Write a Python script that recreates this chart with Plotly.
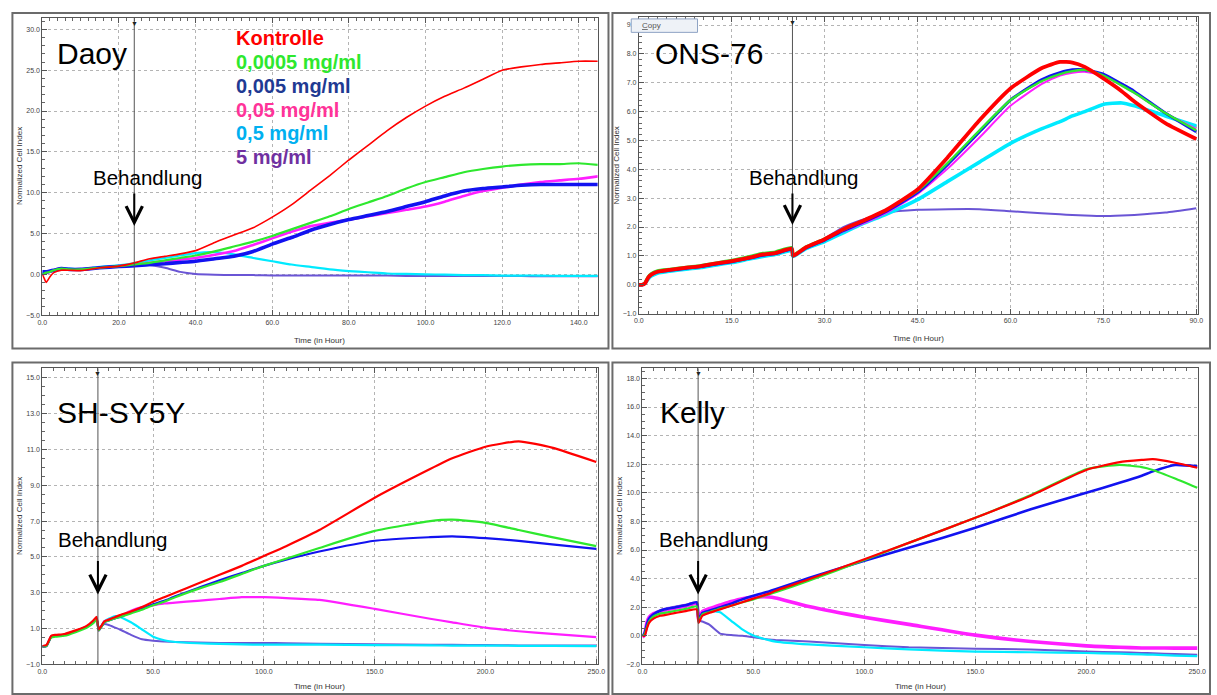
import plotly.graph_objects as go

W, H = 1217, 695
FONT = "Liberation Sans, Arial, sans-serif"

SERIES = ["Kontrolle", "0,0005 mg/ml", "0,005 mg/ml", "0,05 mg/ml", "0,5 mg/ml", "5 mg/ml"]
LINE_COLORS = ["#ff0000", "#2ee82e", "#1212f0", "#ff1eff", "#00eaff", "#6a55d5"]
LEGEND_COLORS = ["#ff0000", "#2ee82e", "#1f3a93", "#ff3399", "#00b0f0", "#7030a0"]

# ---- Daoy ----
DAOY_T = [0, 0.5, 1, 2, 3, 5, 7, 10, 15, 20, 24, 28, 32, 36, 40, 45, 50, 55, 60, 65, 70, 75,
          80, 85, 90, 95, 100, 105, 110, 115, 120, 125, 130, 135, 140, 145]
DAOY_KONTROLLE = [0, -0.5, -1.0, -0.3, 0.2, 0.5, 0.5, 0.45, 0.8, 1.0, 1.4, 1.9, 2.2, 2.5, 2.9, 3.9,
                  4.8, 5.7, 7.0, 8.5, 10.3, 12.1, 14.0, 15.8, 17.6, 19.2, 20.6, 21.8, 22.8, 23.9,
                  25.0, 25.4, 25.7, 25.9, 26.1, 26.1]
DAOY_0_0005 = [0, 0.1, 0.2, 0.3, 0.5, 0.7, 0.6, 0.6, 0.8, 1.0, 1.2, 1.4, 1.7, 2.0, 2.3, 2.8, 3.4,
               4.0, 4.7, 5.5, 6.3, 7.1, 8.0, 8.8, 9.6, 10.5, 11.3, 11.9, 12.5, 12.9, 13.2, 13.4,
               13.5, 13.5, 13.6, 13.4]
DAOY_0_005 = [0.3, 0.3, 0.3, 0.4, 0.5, 0.7, 0.6, 0.6, 0.8, 0.95, 1.05, 1.2, 1.3, 1.45, 1.6, 1.9,
              2.2, 2.8, 3.7, 4.5, 5.4, 6.1, 6.7, 7.2, 7.7, 8.3, 8.9, 9.6, 10.2, 10.5, 10.7, 10.9,
              11.0, 11.0, 11.0, 11.0]
DAOY_0_05 = [0, 0.1, 0.2, 0.3, 0.5, 0.7, 0.6, 0.6, 0.8, 1.0, 1.15, 1.4, 1.6, 1.8, 2.0, 2.4, 2.85,
             3.6, 4.4, 5.2, 5.9, 6.3, 6.7, 7.1, 7.5, 7.9, 8.3, 8.9, 9.6, 10.2, 10.6, 11.0, 11.3,
             11.5, 11.7, 12.0]
DAOY_0_5 = [0.2, 0.2, 0.3, 0.4, 0.5, 0.7, 0.7, 0.6, 0.9, 1.1, 1.35, 1.7, 2.0, 2.3, 2.6, 2.7, 2.45,
            2.0, 1.6, 1.2, 0.9, 0.6, 0.4, 0.25, 0.1, 0.05, 0.0, -0.05, -0.1, -0.1, -0.15, -0.15,
            -0.15, -0.2, -0.2, -0.2]
DAOY_5 = [0, 0, 0.1, 0.3, 0.5, 0.6, 0.6, 0.6, 0.8, 0.95, 1.0, 1.1, 0.8, 0.3, 0.05, -0.05, -0.1,
          -0.1, -0.15, -0.15, -0.15, -0.15, -0.15, -0.15, -0.15, -0.2, -0.2, -0.2, -0.2, -0.2,
          -0.2, -0.2, -0.25, -0.25, -0.25, -0.25]

# ---- ONS-76 ----
ONS_T = [0, 0.5, 1, 1.5, 2, 3, 5, 8, 10, 12, 15, 18, 20, 22, 24.7, 24.9, 27, 30, 33, 36, 40, 45,
         50, 55, 60, 65, 68, 70, 72, 75, 78, 80, 85, 90]
ONS_KONTROLLE = [0, 0, 0.05, 0.25, 0.35, 0.45, 0.52, 0.6, 0.65, 0.72, 0.82, 0.95, 1.05, 1.1, 1.25,
                 1.0, 1.3, 1.58, 1.92, 2.2, 2.6, 3.3, 4.45, 5.7, 6.8, 7.5, 7.72, 7.7, 7.55, 7.15,
                 6.7, 6.35, 5.6, 5.05]
ONS_0_0005 = [0, 0, 0.1, 0.3, 0.4, 0.5, 0.55, 0.63, 0.68, 0.75, 0.86, 1.0, 1.1, 1.15, 1.3, 1.05,
              1.32, 1.6, 1.9, 2.2, 2.6, 3.25, 4.25, 5.35, 6.4, 7.05, 7.3, 7.4, 7.45, 7.25, 6.9,
              6.65, 5.95, 5.35]
ONS_0_005 = [0, 0, 0.05, 0.25, 0.35, 0.45, 0.5, 0.58, 0.63, 0.7, 0.8, 0.93, 1.02, 1.08, 1.22, 1.0,
             1.28, 1.55, 1.88, 2.15, 2.55, 3.2, 4.2, 5.3, 6.4, 7.1, 7.35, 7.45, 7.45, 7.3, 6.95,
             6.7, 5.95, 5.3]
ONS_0_05 = [0, 0, 0.05, 0.25, 0.35, 0.45, 0.5, 0.58, 0.63, 0.7, 0.8, 0.93, 1.02, 1.08, 1.22, 1.0,
            1.28, 1.55, 1.85, 2.1, 2.5, 3.15, 4.05, 5.1, 6.2, 6.95, 7.25, 7.35, 7.38, 7.25, 6.9,
            6.65, 5.95, 5.4]
ONS_0_5 = [0, 0, 0.05, 0.2, 0.3, 0.4, 0.47, 0.55, 0.6, 0.67, 0.77, 0.9, 0.98, 1.05, 1.18, 0.98,
           1.25, 1.5, 1.8, 2.1, 2.45, 2.95, 3.6, 4.25, 4.9, 5.4, 5.65, 5.85, 6.0, 6.25, 6.3, 6.2,
           5.85, 5.5]
ONS_5 = [0, 0, 0.05, 0.25, 0.35, 0.45, 0.5, 0.58, 0.63, 0.7, 0.8, 0.93, 1.02, 1.08, 1.22, 1.0,
         1.3, 1.6, 2.0, 2.25, 2.5, 2.6, 2.62, 2.62, 2.55, 2.48, 2.44, 2.42, 2.4, 2.38, 2.4, 2.42,
         2.5, 2.65]

# ---- SH-SY5Y ----
SHSY_T = [0, 1, 2, 3, 4, 6, 10, 15, 20, 23, 24.5, 25.5, 28, 30, 33, 35, 40, 45, 50, 55, 60, 70,
          80, 90, 100, 110, 125, 150, 175, 185, 200, 215, 230, 250]
SHSY_KONTROLLE = [0, 0.05, 0.1, 0.35, 0.6, 0.65, 0.7, 0.9, 1.15, 1.45, 1.65, 0.95, 1.4, 1.5, 1.65,
                  1.75, 1.95, 2.2, 2.5, 2.75, 3.0, 3.5, 4.0, 4.5, 5.05, 5.6, 6.5, 8.3, 9.9, 10.5,
                  11.15, 11.45, 11.1, 10.3]
SHSY_0_0005 = [0, 0.0, 0.05, 0.3, 0.5, 0.55, 0.6, 0.8, 1.05, 1.3, 1.5, 0.9, 1.35, 1.45, 1.58,
               1.65, 1.85, 2.05, 2.3, 2.5, 2.75, 3.2, 3.6, 4.05, 4.5, 4.9, 5.5, 6.45, 7.0, 7.08,
               6.9, 6.5, 6.1, 5.6]
SHSY_0_005 = [0, 0.0, 0.05, 0.3, 0.55, 0.6, 0.65, 0.85, 1.1, 1.35, 1.55, 0.9, 1.35, 1.45, 1.58,
              1.65, 1.9, 2.1, 2.35, 2.55, 2.8, 3.25, 3.7, 4.1, 4.5, 4.85, 5.3, 5.9, 6.1, 6.15,
              6.05, 5.9, 5.7, 5.45]
SHSY_0_05 = [0, 0.0, 0.05, 0.3, 0.55, 0.6, 0.65, 0.85, 1.1, 1.35, 1.55, 0.9, 1.4, 1.5, 1.6, 1.7,
             2.0, 2.2, 2.3, 2.4, 2.45, 2.55, 2.65, 2.75, 2.75, 2.7, 2.6, 2.1, 1.55, 1.35, 1.05,
             0.85, 0.7, 0.52]
SHSY_0_5 = [0, 0.0, 0.05, 0.3, 0.55, 0.6, 0.65, 0.85, 1.1, 1.35, 1.55, 0.95, 1.4, 1.55, 1.7, 1.65,
            1.35, 0.95, 0.55, 0.35, 0.25, 0.18, 0.15, 0.12, 0.1, 0.1, 0.1, 0.08, 0.06, 0.05, 0.05,
            0.04, 0.03, 0.02]
SHSY_5 = [0, 0.0, 0.05, 0.3, 0.55, 0.6, 0.65, 0.85, 1.1, 1.35, 1.55, 1.05, 1.25, 1.2, 1.05, 0.95,
          0.65, 0.4, 0.32, 0.28, 0.25, 0.22, 0.2, 0.2, 0.2, 0.18, 0.15, 0.12, 0.1, 0.1, 0.08,
          0.06, 0.05, 0.05]

# ---- Kelly ----
KELLY_T = [0, 1, 2, 3, 5, 8, 10, 15, 20, 24.5, 25.3, 27, 30, 33, 35, 40, 45, 50, 57, 60, 75,
           100, 120, 150, 175, 200, 215, 225, 230, 240, 250]
KELLY_KONTROLLE = [0, 0.0, 0.5, 0.9, 1.2, 1.4, 1.45, 1.6, 1.75, 1.85, 0.9, 1.4, 1.6, 1.75, 1.85,
                   2.1, 2.35, 2.6, 2.95, 3.15, 3.95, 5.35, 6.5, 8.25, 9.8, 11.6, 12.15, 12.3,
                   12.35, 12.1, 11.75]
KELLY_0_0005 = [0, 0.1, 0.6, 1.0, 1.35, 1.55, 1.6, 1.75, 1.9, 2.05, 1.0, 1.5, 1.65, 1.8, 1.9,
                2.1, 2.35, 2.55, 2.9, 3.05, 3.85, 5.3, 6.5, 8.25, 9.85, 11.65, 11.95, 11.8, 11.6,
                11.0, 10.35]
KELLY_0_005 = [0, 0.2, 0.8, 1.2, 1.5, 1.75, 1.85, 2.0, 2.15, 2.35, 1.1, 1.6, 1.75, 1.9, 2.0, 2.25,
               2.55, 2.8, 3.1, 3.25, 4.05, 5.25, 6.15, 7.55, 8.85, 10.0, 10.7, 11.2, 11.5, 11.95,
               11.85]
KELLY_0_05 = [-0.1, 0.1, 0.9, 1.3, 1.55, 1.7, 1.8, 1.95, 2.1, 2.25, 1.1, 1.7, 1.9, 2.05, 2.15,
              2.4, 2.6, 2.7, 2.72, 2.65, 2.05, 1.3, 0.8, 0.05, -0.4, -0.7, -0.8, -0.85, -0.85,
              -0.86, -0.86]
KELLY_0_5 = [0, 0.2, 0.8, 1.2, 1.5, 1.7, 1.8, 1.95, 2.1, 2.3, 1.1, 1.6, 1.75, 1.7, 1.65, 1.05,
             0.45, 0.02, -0.3, -0.4, -0.6, -0.8, -0.95, -1.1, -1.15, -1.2, -1.25, -1.3, -1.32,
             -1.38, -1.42]
KELLY_5 = [0, 0.2, 0.8, 1.25, 1.55, 1.8, 1.9, 2.05, 2.2, 2.35, 1.1, 1.0, 0.8, 0.4, 0.15, 0.05,
           0.0, -0.1, -0.26, -0.3, -0.4, -0.64, -0.8, -0.9, -0.95, -1.1, -1.15, -1.2, -1.22,
           -1.28, -1.33]

CELL_LINES = ["Daoy", "ONS-76", "SH-SY5Y", "Kelly"]
TREATMENT_T = [24.0, 24.8, 25.1, 25.1]


def px(x):
    """page pixel x -> paper fraction"""
    return x / W


def py(y):
    """page pixel y -> paper fraction"""
    return 1 - y / H


# styling per panel (pixel geometry, ranges, ticks, line widths)
PANELS = [
    dict(t=DAOY_T, ys=[DAOY_KONTROLLE, DAOY_0_0005, DAOY_0_005, DAOY_0_05, DAOY_0_5, DAOY_5],
         box=(37.7, 18, 599, 316.5), frame=(7.5, 13, 610, 350),
         xr=[0, 144.9], yr=[-5, 31.4], xd=20, xm=2, y0=0, yd=5, ym=1,
         widths=[1.6, 2.2, 3.6, 2.6, 2.2, 2.0],
         label=(57, 54), arrow=(193, 227), beh=(92, 178)),
    dict(t=ONS_T, ys=[ONS_KONTROLLE, ONS_0_0005, ONS_0_005, ONS_0_05, ONS_0_5, ONS_5],
         box=(640.7, 17, 1206, 315), frame=(614, 13, 1218, 350),
         xr=[0, 90.3], yr=[-1, 9.28], xd=15, xm=1.5, y0=-1, yd=1, ym=0.2,
         widths=[3.8, 2.4, 3.0, 2.0, 3.6, 2.0],
         label=(661, 54), arrow=(193, 226), beh=(755, 178)),
    dict(t=SHSY_T, ys=[SHSY_KONTROLLE, SHSY_0_0005, SHSY_0_005, SHSY_0_05, SHSY_0_5, SHSY_5],
         box=(37.7, 370, 599, 667.3), frame=(7.5, 364, 610, 697),
         xr=[0, 250.6], yr=[-1, 15.52], xd=50, xm=5, y0=-1, yd=2, ym=0.5,
         widths=[2.2, 2.2, 2.2, 2.2, 2.2, 2.0],
         label=(57, 414), arrow=(562, 597), beh=(57, 542)),
    dict(t=KELLY_T, ys=[KELLY_KONTROLLE, KELLY_0_0005, KELLY_0_005, KELLY_0_05, KELLY_0_5, KELLY_5],
         box=(644.3, 370, 1206, 667.3), frame=(614, 364, 1218, 697),
         xr=[0, 250.4], yr=[-2, 18.7], xd=50, xm=5, y0=-2, yd=2, ym=0.5,
         widths=[2.2, 2.2, 2.6, 3.6, 2.2, 2.0],
         label=(666, 414), arrow=(562, 597), beh=(664, 542)),
]

fig = go.Figure()
layout = dict(width=W, height=H, margin=dict(l=0, r=0, t=0, b=0, pad=0), autosize=False,
              paper_bgcolor="white", plot_bgcolor="white", showlegend=False,
              font=dict(family=FONT))
shapes, annotations = [], []
DRAW_ORDER = [5, 4, 3, 2, 1, 0]

for i, p in enumerate(PANELS):
    n = "" if i == 0 else str(i + 1)
    xa, ya = "x" + n, "y" + n
    x0, y0, x1, y1 = p["box"]
    for k in DRAW_ORDER:
        fig.add_trace(go.Scatter(x=p["t"], y=p["ys"][k], mode="lines", name=SERIES[k],
                                 line=dict(color=LINE_COLORS[k], width=p["widths"][k],
                                           shape="spline", smoothing=0.5),
                                 xaxis=xa, yaxis=ya, hoverinfo="skip"))
    tickfont = dict(size=7, color="#444", family=FONT)
    layout["xaxis" + n] = dict(
        domain=[px(x0), px(x1)], range=p["xr"], anchor=ya, dtick=p["xd"], tick0=0,
        tickformat=".1f", showline=True, linecolor="#555", linewidth=1, mirror="allticks",
        ticks="inside", ticklen=5, tickcolor="#555", showgrid=True, gridcolor="#b4b4b4",
        griddash="dot", gridwidth=1, zeroline=False, tickfont=tickfont, fixedrange=True,
        minor=dict(ticks="inside", ticklen=3, tickcolor="#666", dtick=p["xm"], showgrid=False))
    layout["yaxis" + n] = dict(
        domain=[py(y1), py(y0)], range=p["yr"], anchor=xa, dtick=p["yd"], tick0=p["y0"],
        tickformat=".1f", showline=True, linecolor="#555", linewidth=1, mirror=True,
        ticks="inside", ticklen=5, tickcolor="#555", showgrid=True, gridcolor="#b4b4b4",
        griddash="dot", gridwidth=1, zeroline=False, tickfont=tickfont, fixedrange=True,
        minor=dict(ticks="inside", ticklen=3, tickcolor="#666", dtick=p["ym"], showgrid=False))

    # outer frame of each panel
    fx0, fy0, fx1, fy1 = p["frame"]
    shapes.append(dict(type="rect", xref="paper", yref="paper", x0=px(fx0), x1=px(fx1),
                       y0=py(fy1), y1=py(fy0), line=dict(color="#6b6b6b", width=2)))
    # treatment line
    tt = TREATMENT_T[i]
    shapes.append(dict(type="line", xref=xa, yref=ya + " domain", x0=tt, x1=tt, y0=0, y1=1,
                       line=dict(color="#555", width=1)))
    annotations.append(dict(text="▼", xref=xa, yref=ya + " domain", x=tt, y=1.0,
                            yanchor="top", xanchor="center", showarrow=False,
                            font=dict(size=7, color="#222")))
    # arrow + Behandlung
    a0, a1 = p["arrow"]
    annotations.append(dict(text="", xref=xa, yref="paper", x=tt, y=py(a1), ax=0, ay=-(a1 - a0),
                            showarrow=True, arrowhead=5, arrowsize=1.6, arrowwidth=2,
                            arrowcolor="black"))
    bx, by = p["beh"]
    annotations.append(dict(text="Behandlung", xref="paper", yref="paper", x=px(bx - 5), y=py(by),
                            xanchor="left", yanchor="middle", showarrow=False,
                            font=dict(size=20.5, color="black", family=FONT)))
    lx, ly = p["label"]
    annotations.append(dict(text=CELL_LINES[i], xref="paper", yref="paper", x=px(lx - 6),
                            y=py(ly), xanchor="left", yanchor="middle", showarrow=False,
                            font=dict(size=30, color="black", family=FONT)))
    # axis titles
    annotations.append(dict(text="Time (in Hour)", xref="paper", yref="paper",
                            x=px((x0 + x1) / 2), y=py(min(y1 + 25, 689)), xanchor="center",
                            yanchor="middle", showarrow=False,
                            font=dict(size=8, color="#333", family=FONT)))
    annotations.append(dict(text="Normalized Cell Index", xref="paper", yref="paper",
                            x=px(x0 - 23), y=py((y0 + y1) / 2), xanchor="center",
                            yanchor="middle", textangle=-90, showarrow=False,
                            font=dict(size=8, color="#333", family=FONT)))

# concentration legend (text) in the Daoy panel
for k, name in enumerate(SERIES):
    annotations.append(dict(text="<b>" + name + "</b>", xref="paper", yref="paper",
                            x=px(231), y=py(38 + 24 * k), xanchor="left", yanchor="middle",
                            showarrow=False,
                            font=dict(size=20, color=LEGEND_COLORS[k], family=FONT)))

# "Copy" button artefact in ONS-76 panel
shapes.append(dict(type="rect", xref="paper", yref="paper", x0=px(633), x1=px(700),
                   y0=py(32.5), y1=py(19), fillcolor="#eef2f7",
                   line=dict(color="#8ea3c4", width=1)))
annotations.append(dict(text="<u>C</u>opy", xref="paper", yref="paper", x=px(642), y=py(26),
                        xanchor="left", yanchor="middle", showarrow=False,
                        font=dict(size=8, color="#555", family=FONT)))

layout["shapes"] = shapes
layout["annotations"] = annotations
layout["hovermode"] = False
fig.update_layout(**layout)
# remove the default 8px page margin so the 1217x695 figure fills the window exactly
fig.write_html("out.html",
               config={"displayModeBar": False, "staticPlot": True},
               post_script="document.body.style.margin='0px';"
                           "document.body.style.overflow='hidden';")
